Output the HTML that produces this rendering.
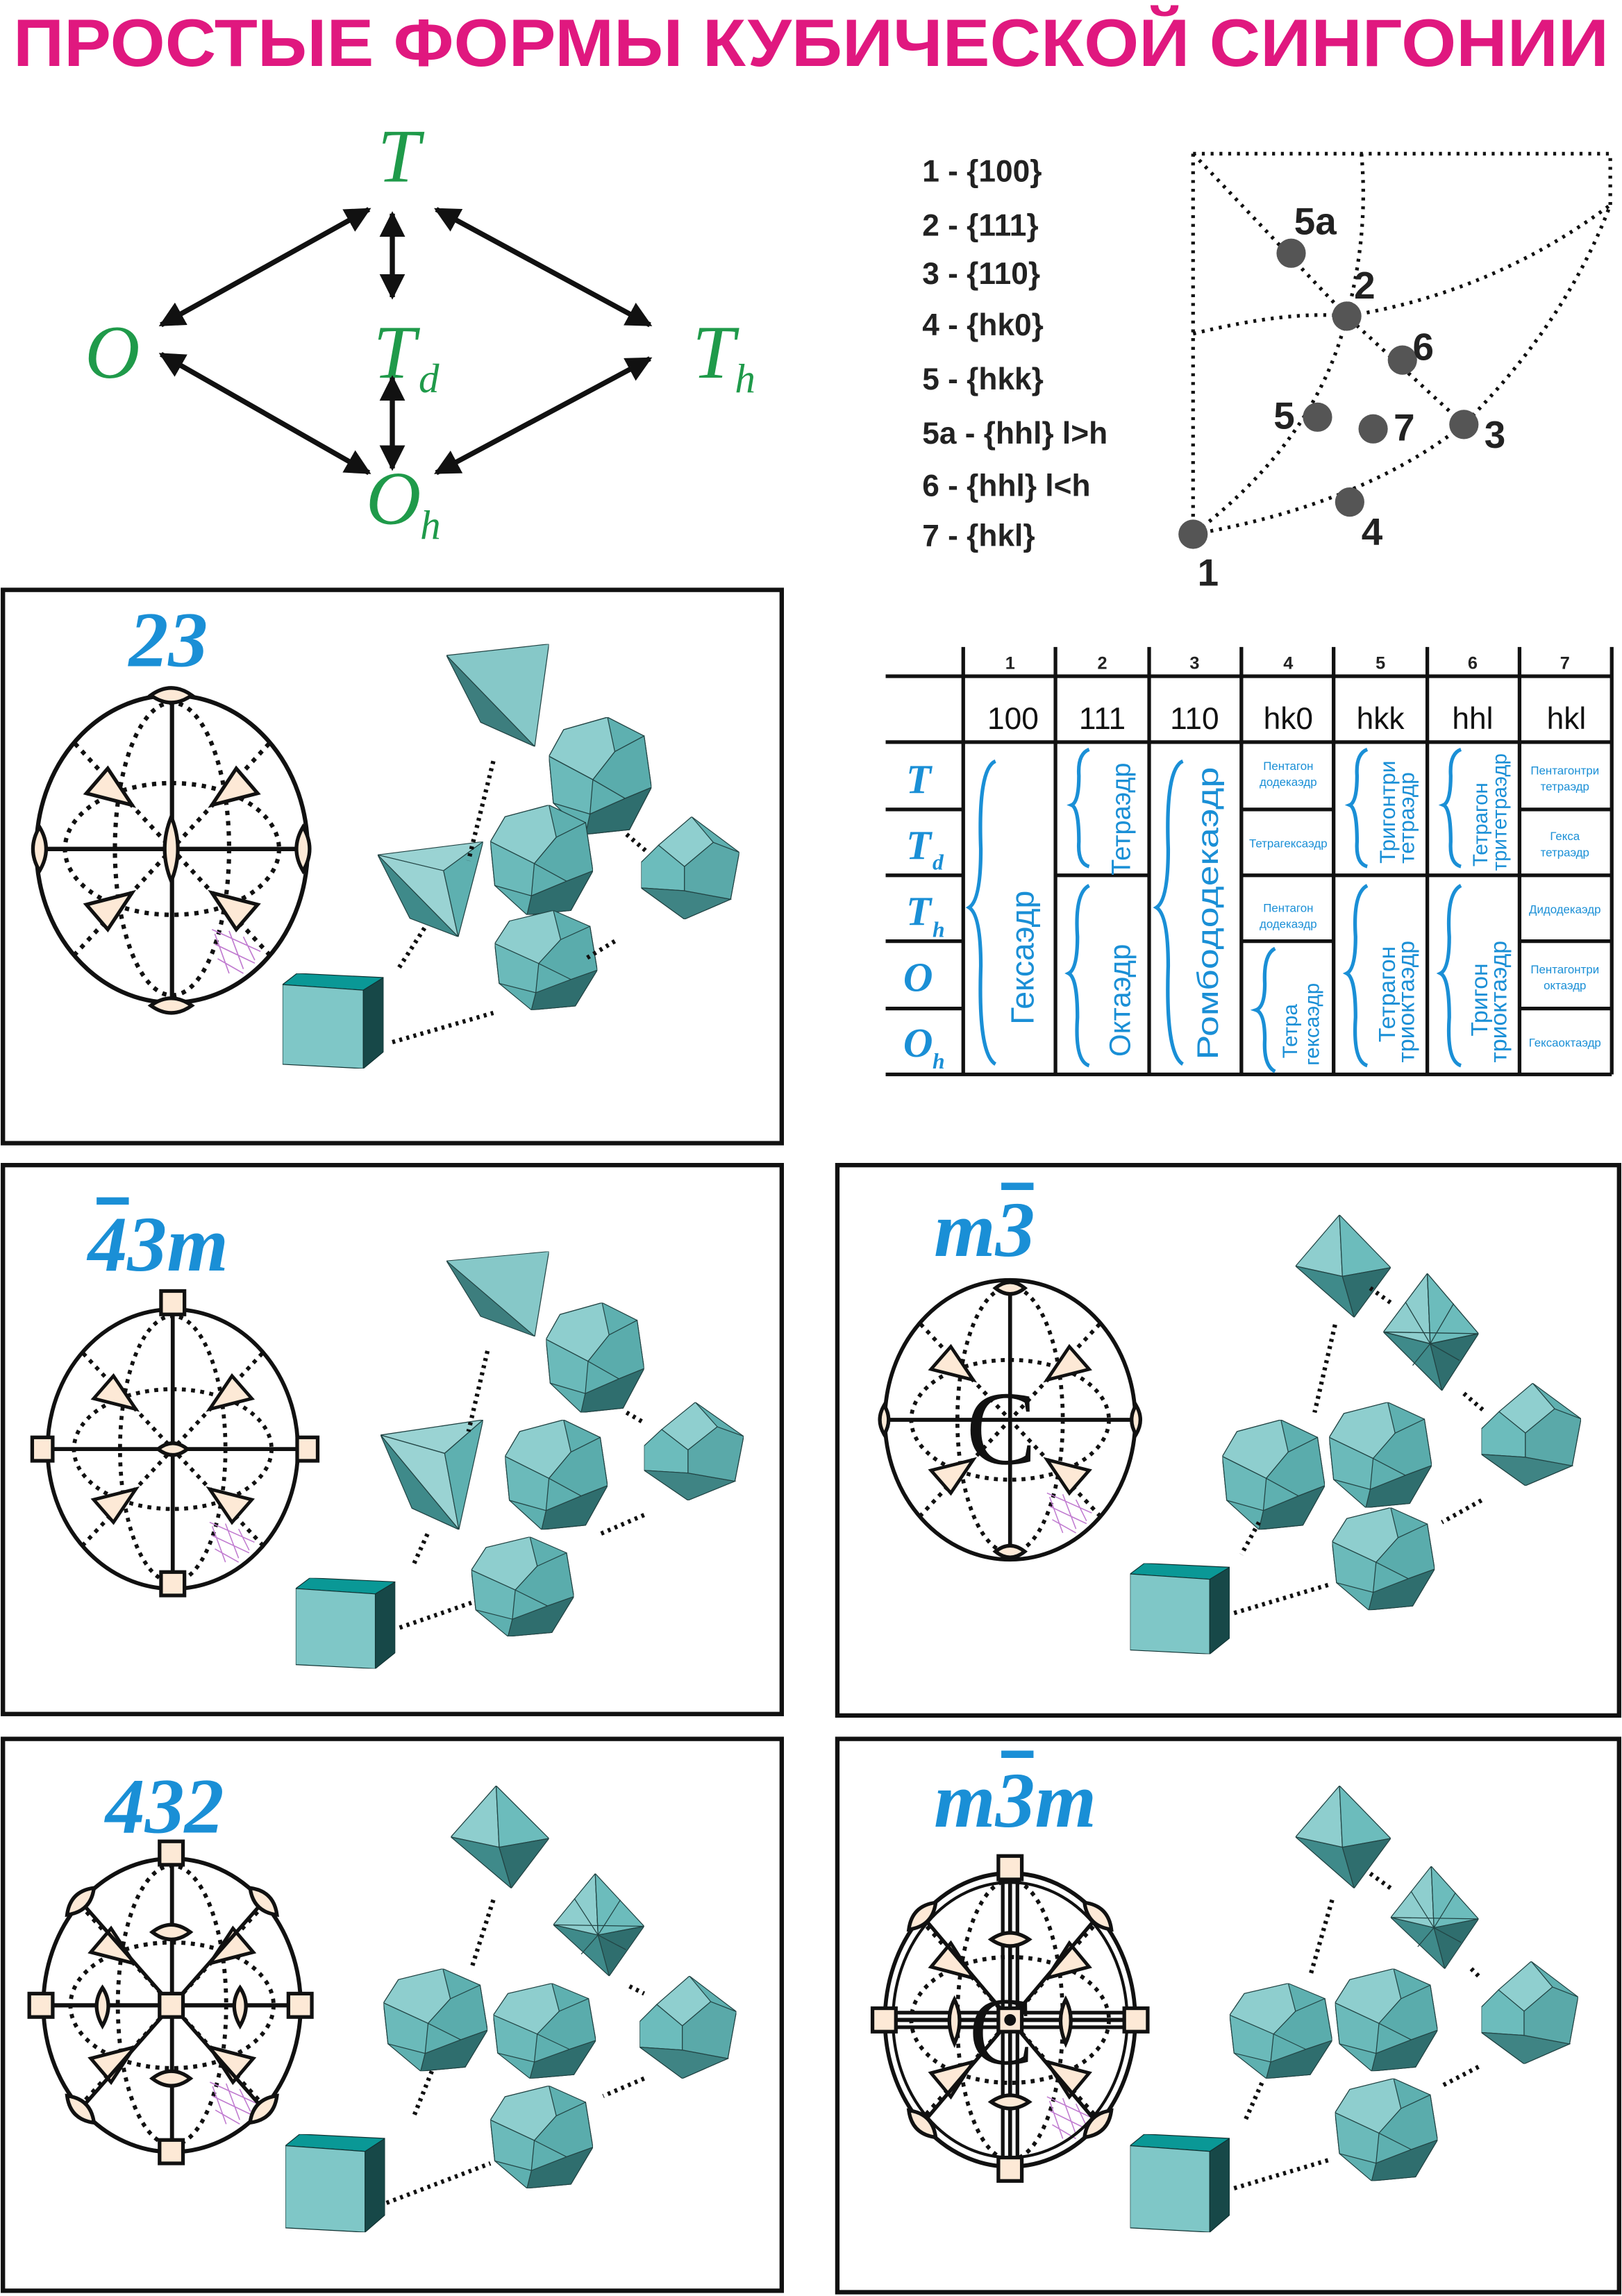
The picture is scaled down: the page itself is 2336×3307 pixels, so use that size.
<!DOCTYPE html>
<html><head><meta charset="utf-8"><style>html,body{margin:0;padding:0;background:#fff}svg{display:block}</style></head>
<body>
<svg xmlns="http://www.w3.org/2000/svg" xmlns:xlink="http://www.w3.org/1999/xlink" width="2336" height="3307" viewBox="0 0 1108 1568.6" preserveAspectRatio="none">
<defs>
<marker id="ah" viewBox="0 0 10 10" refX="9" refY="5" markerWidth="5" markerHeight="5" orient="auto-start-reverse"><path d="M0,0 L10,5 L0,10 z" fill="#111"/></marker>
<path id="lens" d="M-13,0 Q0,-10 13,0 Q0,10 -13,0z" fill="#fde9d6" stroke="#111" stroke-width="2.5"/>
<symbol id="cube" viewBox="0 0 70 68" preserveAspectRatio="none">
<polygon points="0,8 10,0 70,3 56,12" fill="#0a9896" stroke="#133" stroke-width="0.6"/>
<polygon points="0,8 56,12 56,68 0,65" fill="#7fc7c7" stroke="#133" stroke-width="0.6"/>
<polygon points="56,12 70,3 70,56 56,68" fill="#174848" stroke="#133" stroke-width="0.6"/>
</symbol>
<symbol id="tet1" viewBox="0 0 72 72" preserveAspectRatio="none">
<polygon points="0,8 72,0 62,72" fill="#86c8c8" stroke="#244" stroke-width="0.6"/>
<polygon points="0,8 62,72 24,55" fill="#3d7e7e" stroke="#244" stroke-width="0.6"/>
</symbol>
<symbol id="tet2" viewBox="0 0 72 72" preserveAspectRatio="none">
<polygon points="0,10 72,0 45,22" fill="#9ad3d3" stroke="#244" stroke-width="0.6"/>
<polygon points="0,10 45,22 55,72" fill="#9ad3d3" stroke="#244" stroke-width="0.6"/>
<polygon points="45,22 72,0 55,72" fill="#5eb0b0" stroke="#244" stroke-width="0.6"/>
<polygon points="0,10 55,72 22,58" fill="#3f8a8a" stroke="#244" stroke-width="0.6"/>
</symbol>
<symbol id="poly" viewBox="0 0 70 75" preserveAspectRatio="none">
<polygon points="10,8 40,0 65,12 70,45 55,72 25,75 3,55 0,25" fill="#5eb0b0" stroke="#244" stroke-width="0.6"/>
<polygon points="10,8 40,0 45,22 30,40 0,25" fill="#8ecece" stroke="#244" stroke-width="0.6"/>
<polygon points="0,25 30,40 28,62 3,55" fill="#6bbaba" stroke="#244" stroke-width="0.6"/>
<polygon points="45,22 65,12 70,45 52,52 30,40" fill="#5aacac" stroke="#244" stroke-width="0.6"/>
<polygon points="28,62 52,52 70,45 55,72 25,75" fill="#2f6e6e" stroke="#244" stroke-width="0.6"/>
</symbol>
<symbol id="rho" viewBox="0 0 68 72" preserveAspectRatio="none">
<polygon points="0,32 35,0 68,25 62,58 30,72 0,50" fill="#5fb0b0" stroke="#244" stroke-width="0.6"/>
<polygon points="12,20 35,0 50,18 30,35" fill="#8fcfcf" stroke="#244" stroke-width="0.6"/>
<polygon points="0,32 12,20 30,35 30,52 0,50" fill="#6cbcbc" stroke="#244" stroke-width="0.6"/>
<polygon points="30,52 62,58 30,72 0,50" fill="#3f8484" stroke="#244" stroke-width="0.6"/>
<polygon points="50,18 68,25 62,58 30,52 30,35" fill="#5aa9a9" stroke="#244" stroke-width="0.6"/>
</symbol>
<symbol id="octa" viewBox="0 0 65 70" preserveAspectRatio="none">
<polygon points="30,0 0,35 32,42" fill="#8ecece" stroke="#244" stroke-width="0.6"/>
<polygon points="30,0 65,36 32,42" fill="#6cbcbc" stroke="#244" stroke-width="0.6"/>
<polygon points="0,35 32,42 40,70" fill="#3f8a8a" stroke="#244" stroke-width="0.6"/>
<polygon points="32,42 65,36 40,70" fill="#2f6e6e" stroke="#244" stroke-width="0.6"/>
</symbol>
<symbol id="star" viewBox="0 0 65 70" preserveAspectRatio="none">
<polygon points="30,0 0,35 32,42" fill="#8ecece" stroke="#244" stroke-width="0.6"/>
<polygon points="30,0 65,36 32,42" fill="#6cbcbc" stroke="#244" stroke-width="0.6"/>
<polygon points="0,35 32,42 40,70" fill="#3f8a8a" stroke="#244" stroke-width="0.6"/>
<polygon points="32,42 65,36 40,70" fill="#2f6e6e" stroke="#244" stroke-width="0.6"/>
<path d="M30,0 L32,42 M0,35 L65,36 M15,17 L32,42 L48,18 M20,55 L32,42 L52,52" stroke="#244" stroke-width="0.6" fill="none"/>
</symbol>
<symbol id="st" viewBox="-100 -110 200 220" preserveAspectRatio="none" overflow="visible">
<ellipse cx="0" cy="0" rx="95" ry="105" fill="#fff" stroke="#111" stroke-width="3"/>
<g stroke="#111" stroke-width="3" stroke-dasharray="3 4" fill="none">
<ellipse cx="0" cy="0" rx="75" ry="45"/>
<ellipse cx="0" cy="0" rx="40" ry="100"/>
<path d="M-68,-72 L68,72 M68,-72 L-68,72"/>
</g>
<path d="M0,-105 L0,105 M-95,0 L95,0" stroke="#111" stroke-width="3"/>
<g fill="#fde9d6" stroke="#111" stroke-width="2.5">
<polygon points="-45,-55 -28,-30 -60,-38"/><polygon points="45,-55 28,-30 60,-38"/>
<polygon points="-60,38 -28,30 -45,55"/><polygon points="60,38 28,30 45,55"/>
</g>
<g stroke="#c07ad0" stroke-width="0.8"><path d="M28,55 L62,70 M30,65 L58,78 M32,75 L50,85 M30,58 L40,85 M40,56 L50,82 M50,60 L58,76"/></g>
</symbol>
</defs>

<text x="554" y="45" text-anchor="middle" font-family="Liberation Sans, sans-serif" font-weight="bold" font-size="46" fill="#e0187f" textLength="1090" lengthAdjust="spacingAndGlyphs">ПРОСТЫЕ ФОРМЫ КУБИЧЕСКОЙ СИНГОНИИ</text>

<!-- group diagram -->
<g font-family="Liberation Serif, serif" font-style="italic" fill="#1f9a4a" font-size="52">
<text x="258" y="124">T</text>
<text x="58" y="258">O</text>
<text x="255" y="258">T</text><text x="286" y="268" font-size="28">d</text>
<text x="473" y="258">T</text><text x="502" y="268" font-size="28">h</text>
<text x="250" y="358">O</text><text x="287" y="368" font-size="28">h</text>
</g>
<g stroke="#111" stroke-width="3.5" marker-start="url(#ah)" marker-end="url(#ah)">
<line x1="110" y1="222" x2="252" y2="143"/>
<line x1="298" y1="143" x2="444" y2="222"/>
<line x1="268" y1="146" x2="268" y2="203"/>
<line x1="268" y1="258" x2="268" y2="320"/>
<line x1="110" y1="242" x2="252" y2="323"/>
<line x1="444" y1="245" x2="298" y2="323"/>
</g>

<!-- legend -->
<g font-family="Liberation Sans, sans-serif" font-weight="bold" font-size="21" fill="#222">
<text x="630" y="124">1 -  {100}</text>
<text x="630" y="161">2 -  {111}</text>
<text x="630" y="194">3 -  {110}</text>
<text x="630" y="229">4 -  {hk0}</text>
<text x="630" y="266">5 -  {hkk}</text>
<text x="630" y="303">5a - {hhl} l&gt;h</text>
<text x="630" y="339">6 -  {hhl} l&lt;h</text>
<text x="630" y="373">7 -  {hkl}</text>
</g>
<g stroke="#111" stroke-width="2.5" stroke-dasharray="2 4" fill="none">
<path d="M815,105 L1100,105 L1100,140"/>
<path d="M815,105 L815,365"/>
<path d="M815,365 Q930,345 1000,290 Q1070,220 1100,140"/>
<path d="M815,105 L920,216 L1000,290"/>
<path d="M815,228 Q880,212 920,216 Q1020,200 1100,140"/>
<path d="M930,105 Q935,160 920,216 Q900,300 815,365"/>
</g>
<g fill="#555">
<circle cx="882" cy="173" r="10"/><circle cx="920" cy="216" r="10"/><circle cx="958" cy="246" r="10"/>
<circle cx="900" cy="285" r="10"/><circle cx="938" cy="293" r="10"/><circle cx="1000" cy="290" r="10"/>
<circle cx="922" cy="343" r="10"/><circle cx="815" cy="365" r="10"/>
</g>
<g font-family="Liberation Sans, sans-serif" font-weight="bold" font-size="26" fill="#222">
<text x="884" y="160">5a</text><text x="925" y="204">2</text><text x="965" y="246">6</text>
<text x="870" y="293">5</text><text x="952" y="301">7</text><text x="1014" y="306">3</text>
<text x="930" y="372">4</text><text x="818" y="400">1</text>
</g>

<!-- table -->
<g stroke="#111" stroke-width="2.5">
<line x1="605" y1="462" x2="1101" y2="462"/>
<line x1="605" y1="507" x2="1101" y2="507"/>
<line x1="605" y1="734" x2="1101" y2="734"/>
<line x1="605" y1="553" x2="658" y2="553"/><line x1="605" y1="598" x2="658" y2="598"/>
<line x1="605" y1="643" x2="658" y2="643"/><line x1="605" y1="689" x2="658" y2="689"/>
<line x1="721" y1="598" x2="785" y2="598"/>
<line x1="848" y1="553" x2="911" y2="553"/><line x1="848" y1="598" x2="911" y2="598"/><line x1="848" y1="643" x2="911" y2="643"/>
<line x1="911" y1="598" x2="1038" y2="598"/>
<line x1="1038" y1="553" x2="1101" y2="553"/><line x1="1038" y1="598" x2="1101" y2="598"/>
<line x1="1038" y1="643" x2="1101" y2="643"/><line x1="1038" y1="689" x2="1101" y2="689"/>
<line x1="658" y1="442" x2="658" y2="734"/><line x1="721" y1="442" x2="721" y2="734"/>
<line x1="785" y1="442" x2="785" y2="734"/><line x1="848" y1="442" x2="848" y2="734"/>
<line x1="911" y1="442" x2="911" y2="734"/><line x1="975" y1="442" x2="975" y2="734"/>
<line x1="1038" y1="442" x2="1038" y2="734"/><line x1="1101" y1="442" x2="1101" y2="734"/>
</g>
<g font-family="Liberation Sans, sans-serif" font-weight="bold" font-size="12" fill="#222" text-anchor="middle">
<text x="690" y="457">1</text><text x="753" y="457">2</text><text x="816" y="457">3</text><text x="880" y="457">4</text>
<text x="943" y="457">5</text><text x="1006" y="457">6</text><text x="1069" y="457">7</text>
</g>
<g font-family="Liberation Sans, sans-serif" font-size="21" fill="#111" text-anchor="middle">
<text x="692" y="498">100</text><text x="753" y="498">111</text><text x="816" y="498">110</text><text x="880" y="498">hk0</text>
<text x="943" y="498">hkk</text><text x="1006" y="498">hhl</text><text x="1070" y="498">hkl</text>
</g>
<g font-family="Liberation Serif, serif" font-style="italic" font-weight="bold" fill="#1a8fd6" font-size="28">
<text x="619" y="542">T</text>
<text x="619" y="587">T</text><text x="637" y="594" font-size="15">d</text>
<text x="619" y="632">T</text><text x="637" y="640" font-size="15">h</text>
<text x="617" y="677">O</text>
<text x="617" y="722">O</text><text x="637" y="730" font-size="15">h</text>
</g>
<g fill="none" stroke="#1a8fd6" stroke-width="2.5">
<path d="M680,520 Q668,525 670,580 Q670,615 662,620 Q670,625 670,660 Q668,720 680,727"/>
<path d="M744,512 Q736,515 737,530 Q737,548 732,550 Q737,552 737,575 Q736,590 744,592"/>
<path d="M744,605 Q734,610 736,640 Q736,662 730,665 Q736,668 736,695 Q734,725 744,728"/>
<path d="M808,520 Q796,525 798,580 Q798,615 790,620 Q798,625 798,660 Q796,720 808,727"/>
<path d="M871,648 Q863,652 864,672 Q864,688 858,690 Q864,692 864,710 Q863,728 871,732"/>
<path d="M934,512 Q926,515 927,530 Q927,548 922,550 Q927,552 927,575 Q926,590 934,592"/>
<path d="M934,605 Q924,610 926,640 Q926,662 920,665 Q926,668 926,695 Q924,725 934,728"/>
<path d="M998,512 Q990,515 991,530 Q991,548 986,550 Q991,552 991,575 Q990,590 998,592"/>
<path d="M998,605 Q988,610 990,640 Q990,662 984,665 Q990,668 990,695 Q988,725 998,728"/>
</g>
<g font-family="Liberation Sans, sans-serif" fill="#1a8fd6">
<text transform="translate(706,700) rotate(-90)" font-size="22">Гексаэдр</text>
<text transform="translate(772,598) rotate(-90)" font-size="18">Тетраэдр</text>
<text transform="translate(772,722) rotate(-90)" font-size="20">Октаэдр</text>
<text transform="translate(832,724) rotate(-90)" font-size="20" textLength="200" lengthAdjust="spacingAndGlyphs">Ромбододекаэдр</text>
<text transform="translate(953,590) rotate(-90)" font-size="15">Тригонтри</text>
<text transform="translate(966,590) rotate(-90)" font-size="15">тетраэдр</text>
<text transform="translate(1016,592) rotate(-90)" font-size="14">Тетрагон</text>
<text transform="translate(1029,595) rotate(-90)" font-size="14">тритетраэдр</text>
<text transform="translate(953,712) rotate(-90)" font-size="16">Тетрагон</text>
<text transform="translate(966,726) rotate(-90)" font-size="16">триоктаэдр</text>
<text transform="translate(1016,708) rotate(-90)" font-size="16">Тригон</text>
<text transform="translate(1029,726) rotate(-90)" font-size="16">триоктаэдр</text>
<text transform="translate(886,723) rotate(-90)" font-size="14">Тетра</text>
<text transform="translate(901,728) rotate(-90)" font-size="14">гексаэдр</text>
</g>
<g font-family="Liberation Sans, sans-serif" fill="#1a8fd6" font-size="8" text-anchor="middle">
<text x="880" y="526">Пентагон</text><text x="880" y="537">додекаэдр</text>
<text x="880" y="579">Тетрагексаэдр</text>
<text x="880" y="623">Пентагон</text><text x="880" y="634">додекаэдр</text>
<text x="1069" y="529">Пентагонтри</text><text x="1069" y="540">тетраэдр</text>
<text x="1069" y="574">Гекса</text><text x="1069" y="585">тетраэдр</text>
<text x="1069" y="624">Дидодекаэдр</text>
<text x="1069" y="665">Пентагонтри</text><text x="1069" y="676">октаэдр</text>
<text x="1069" y="715">Гексаоктаэдр</text>
</g>

<!-- panels -->
<g fill="none" stroke="#111" stroke-width="3">
<rect x="2" y="403" width="532" height="378"/>
<rect x="2" y="796" width="532" height="375"/>
<rect x="572" y="796" width="534" height="376"/>
<rect x="2" y="1188" width="532" height="377"/>
<rect x="572" y="1188" width="534" height="378"/>
</g>
<g font-family="Liberation Serif, serif" font-style="italic" font-weight="bold" fill="#1a8fd6" font-size="54">
<text x="88" y="455">23</text>
<text x="60" y="868">43m</text><rect x="66" y="818" width="22" height="5" fill="#1a8fd6"/>
<text x="638" y="858">m3</text><rect x="684" y="808" width="22" height="5" fill="#1a8fd6"/>
<text x="72" y="1252">432</text>
<text x="638" y="1248">m3m</text><rect x="684" y="1196" width="22" height="5" fill="#1a8fd6"/>
</g>

<!-- stereograms -->
<use xlink:href="#st" x="20" y="470" width="195" height="220"/>
<use xlink:href="#st" x="28" y="890" width="180" height="200"/>
<use xlink:href="#st" x="600" y="870" width="180" height="200"/>
<use xlink:href="#st" x="25" y="1265" width="185" height="210"/>
<use xlink:href="#st" x="600" y="1275" width="180" height="210"/>
<!-- extra rings/axes -->
<ellipse cx="690" cy="1380" rx="80" ry="94" fill="none" stroke="#111" stroke-width="2"/>
<g stroke="#111" stroke-width="2.5">
<path d="M55,1299 L180,1441 M180,1299 L55,1441"/>
<path d="M630,1309 L750,1451 M750,1309 L630,1451"/>
<path d="M685,1280 L685,1480 M695,1280 L695,1480 M605,1375 L775,1375 M605,1385 L775,1385"/>
</g>
<!-- diagonal lenses on circle -->
<use xlink:href="#lens" transform="translate(55,1299) rotate(-45)"/>
<use xlink:href="#lens" transform="translate(180,1299) rotate(45)"/>
<use xlink:href="#lens" transform="translate(55,1441) rotate(45)"/>
<use xlink:href="#lens" transform="translate(180,1441) rotate(-45)"/>
<use xlink:href="#lens" transform="translate(630,1309) rotate(-45)"/>
<use xlink:href="#lens" transform="translate(750,1309) rotate(45)"/>
<use xlink:href="#lens" transform="translate(630,1451) rotate(45)"/>
<use xlink:href="#lens" transform="translate(750,1451) rotate(-45)"/>
<g fill="#fde9d6" stroke="#111" stroke-width="2.5">
<!-- panel1 lenses -->
<path d="M103,475 Q117,465 131,475 Q117,485 103,475z"/><path d="M103,687 Q117,677 131,687 Q117,697 103,687z"/>
<path d="M27,565 Q18,580 27,595 Q36,580 27,565z"/><path d="M207,565 Q198,580 207,595 Q216,580 207,565z"/>
<path d="M117,558 Q108,580 117,602 Q126,580 117,558z"/>
<!-- panel2 squares -->
<rect x="110" y="882" width="16" height="16"/><rect x="110" y="1074" width="16" height="16"/>
<rect x="22" y="982" width="14" height="16"/><rect x="203" y="982" width="14" height="16"/>
<path d="M108,990 Q118,982 128,990 Q118,998 108,990z"/>
<!-- panel3 -->
<path d="M680,880 Q690,872 700,880 Q690,888 680,880z"/><path d="M680,1060 Q690,1052 700,1060 Q690,1068 680,1060z"/>
<path d="M604,960 Q598,970 604,980 Q610,970 604,960z"/><path d="M776,960 Q770,970 776,980 Q782,970 776,960z"/>
<!-- panel4 inner lenses -->
<path d="M104,1320 Q117,1310 130,1320 Q117,1330 104,1320z"/><path d="M104,1420 Q117,1410 130,1420 Q117,1430 104,1420z"/>
<path d="M70,1358 Q62,1370 70,1384 Q78,1370 70,1358z"/><path d="M164,1358 Q156,1370 164,1384 Q172,1370 164,1358z"/>
<!-- panel4 squares -->
<rect x="109" y="1258" width="16" height="16"/><rect x="109" y="1462" width="16" height="16"/>
<rect x="20" y="1362" width="16" height="16"/><rect x="197" y="1362" width="16" height="16"/>
<rect x="109" y="1362" width="16" height="16"/>
<!-- panel5 inner lenses -->
<path d="M677,1325 Q690,1316 703,1325 Q690,1334 677,1325z"/><path d="M677,1436 Q690,1427 703,1436 Q690,1445 677,1436z"/>
<path d="M652,1366 Q645,1380 652,1396 Q659,1380 652,1366z"/><path d="M728,1366 Q721,1380 728,1396 Q735,1380 728,1366z"/>
<!-- panel5 squares -->
<rect x="682" y="1268" width="16" height="16"/><rect x="682" y="1474" width="16" height="16"/>
<rect x="596" y="1372" width="16" height="16"/><rect x="768" y="1372" width="16" height="16"/>
<rect x="682" y="1372" width="16" height="16"/>
</g>
<text x="660" y="1000" font-family="Liberation Serif, serif" font-size="72" fill="#111">C</text>
<text x="662" y="1410" font-family="Liberation Serif, serif" font-size="66" fill="#111">C</text>
<circle cx="690" cy="1380" r="4" fill="#111"/>

<!-- crystals -->
<use xlink:href="#tet1" x="305" y="440" width="70" height="70"/>
<use xlink:href="#poly" x="375" y="490" width="70" height="80"/>
<use xlink:href="#tet2" x="258" y="575" width="72" height="65"/>
<use xlink:href="#poly" x="335" y="550" width="70" height="75"/>
<use xlink:href="#rho" x="438" y="558" width="67" height="70"/>
<use xlink:href="#poly" x="338" y="622" width="70" height="68"/>
<use xlink:href="#cube" x="193" y="665" width="69" height="65"/>

<use xlink:href="#tet1" x="305" y="855" width="70" height="58"/>
<use xlink:href="#poly" x="373" y="890" width="67" height="75"/>
<use xlink:href="#tet2" x="260" y="970" width="70" height="75"/>
<use xlink:href="#poly" x="345" y="970" width="70" height="75"/>
<use xlink:href="#rho" x="440" y="958" width="68" height="67"/>
<use xlink:href="#poly" x="322" y="1050" width="70" height="68"/>
<use xlink:href="#cube" x="202" y="1078" width="68" height="62"/>

<use xlink:href="#octa" x="885" y="830" width="65" height="70"/>
<use xlink:href="#star" x="945" y="870" width="65" height="80"/>
<use xlink:href="#poly" x="835" y="970" width="70" height="75"/>
<use xlink:href="#poly" x="908" y="958" width="70" height="72"/>
<use xlink:href="#rho" x="1012" y="945" width="68" height="70"/>
<use xlink:href="#poly" x="910" y="1030" width="70" height="70"/>
<use xlink:href="#cube" x="772" y="1068" width="68" height="62"/>

<use xlink:href="#octa" x="308" y="1220" width="67" height="70"/>
<use xlink:href="#star" x="378" y="1280" width="62" height="70"/>
<use xlink:href="#poly" x="262" y="1345" width="71" height="70"/>
<use xlink:href="#poly" x="337" y="1355" width="70" height="65"/>
<use xlink:href="#rho" x="437" y="1350" width="66" height="70"/>
<use xlink:href="#poly" x="335" y="1425" width="70" height="70"/>
<use xlink:href="#cube" x="195" y="1458" width="68" height="67"/>

<use xlink:href="#octa" x="885" y="1220" width="65" height="70"/>
<use xlink:href="#star" x="950" y="1275" width="60" height="70"/>
<use xlink:href="#poly" x="840" y="1355" width="70" height="65"/>
<use xlink:href="#poly" x="912" y="1345" width="70" height="70"/>
<use xlink:href="#rho" x="1012" y="1340" width="66" height="70"/>
<use xlink:href="#poly" x="912" y="1420" width="70" height="70"/>
<use xlink:href="#cube" x="772" y="1458" width="68" height="67"/>

<!-- dotted connectors -->
<g stroke="#111" stroke-width="3" stroke-dasharray="2 3" fill="none">
<path d="M337,520 L320,588"/><path d="M428,570 L442,582"/><path d="M290,634 L272,662"/>
<path d="M420,643 L400,655"/><path d="M268,712 L337,692"/>
<path d="M333,923 L320,978"/><path d="M428,965 L440,972"/><path d="M292,1048 L282,1070"/>
<path d="M440,1035 L410,1048"/><path d="M273,1112 L322,1095"/>
<path d="M912,905 L898,965"/><path d="M936,880 L950,890"/><path d="M1000,952 L1015,965"/>
<path d="M860,1040 L848,1062"/><path d="M1012,1025 L985,1040"/><path d="M843,1102 L910,1082"/>
<path d="M337,1298 L322,1345"/><path d="M430,1357 L440,1362"/><path d="M295,1415 L283,1445"/>
<path d="M440,1420 L412,1432"/><path d="M264,1505 L335,1478"/>
<path d="M910,1298 L895,1350"/><path d="M936,1280 L950,1290"/><path d="M1005,1345 L1012,1352"/>
<path d="M862,1423 L850,1450"/><path d="M1010,1412 L985,1425"/><path d="M843,1495 L910,1475"/>
</g>
</svg>
</body></html>
